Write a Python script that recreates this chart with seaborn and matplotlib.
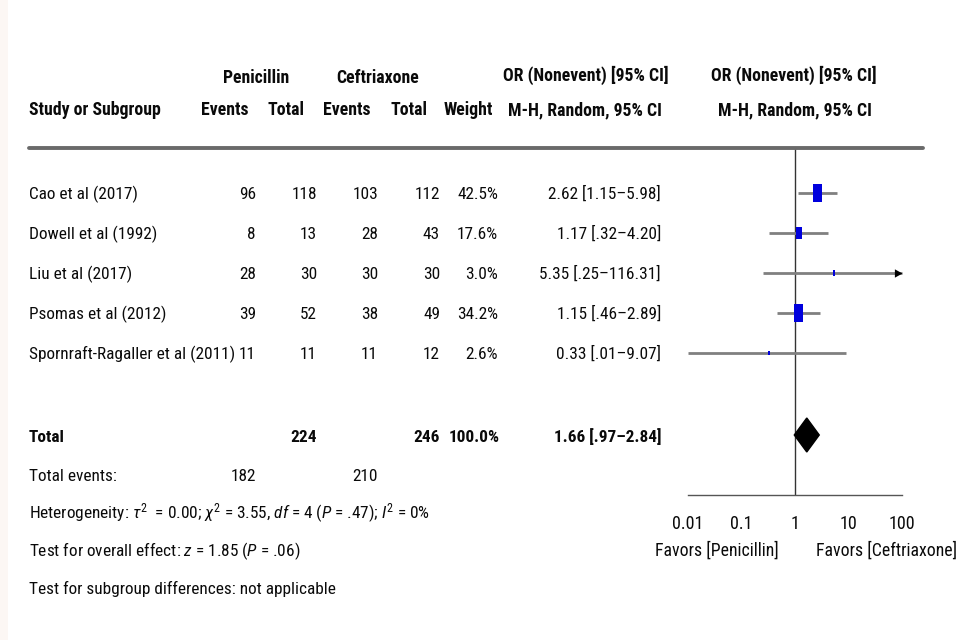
import numpy as np
import pandas as pd
import matplotlib
matplotlib.use("Agg")
import matplotlib.pyplot as plt
from matplotlib.path import Path
from matplotlib.lines import Line2D
from matplotlib.patches import Rectangle
import seaborn as sns

# ---- study data -----------------------------------------------------------
studies = ["Cao et al (2017)", "Dowell et al (1992)", "Liu et al (2017)",
           "Psomas et al (2012)", "Spornraft-Ragaller et al (2011)"]
pen_events = [96, 8, 28, 39, 11]
pen_total = [118, 13, 30, 52, 11]
cef_events = [103, 28, 30, 38, 11]
cef_total = [112, 43, 30, 49, 12]
weights = [42.5, 17.6, 3.0, 34.2, 2.6]
odds = [2.62, 1.17, 5.35, 1.15, 0.33]
ci_low = [1.15, 0.32, 0.25, 0.46, 0.01]
ci_high = [5.98, 4.20, 116.31, 2.89, 9.07]

pooled_or = 1.66
pooled_low = 0.97
pooled_high = 2.84
total_pen = 224
total_cef = 246
total_weight = 100.0
events_pen = 182
events_cef = 210

axis_ticks = [0.01, 0.1, 1, 10, 100]
axis_labels = ["0.01", "0.1", "1", "10", "100"]

# ---- style ----------------------------------------------------------------
sns.set_style("white")
FONT = "Roboto Condensed"
plt.rcParams["font.family"] = [FONT, "Liberation Sans", "DejaVu Sans"]
plt.rcParams["mathtext.fontset"] = "custom"
plt.rcParams["mathtext.rm"] = FONT
plt.rcParams["mathtext.it"] = FONT + ":italic"
plt.rcParams["mathtext.bf"] = FONT + ":bold"

W, H = 961, 640
fig = plt.figure(figsize=(W / 100, H / 100), dpi=100)
fig.patch.set_facecolor("white")
fig.patches.append(Rectangle((0, 0), 8 / W, 1, transform=fig.transFigure,
                             facecolor="#fcf7f4", edgecolor="none", zorder=0))

BODY = 12.4
HEAD = 12.8


def put(x, y, s, ha="left", bold=False, size=BODY):
    fig.text(x / W, 1 - y / H, s, ha=ha, va="baseline", fontsize=size,
             fontweight="bold" if bold else "normal", color="#0a0a0a")


def ci_bound(v):
    s = f"{v:.2f}"
    return s[1:] if s.startswith("0.") else s


# ---- table header ---------------------------------------------------------
put(256, 83, "Penicillin", ha="center", bold=True, size=HEAD)
put(378, 83, "Ceftriaxone", ha="center", bold=True, size=HEAD)
put(586, 81, "OR (Nonevent) [95% CI]", ha="center", bold=True, size=HEAD)
put(794, 81, "OR (Nonevent) [95% CI]", ha="center", bold=True, size=HEAD)
put(29, 115, "Study or Subgroup", bold=True, size=HEAD)
put(225, 115, "Events", ha="center", bold=True, size=HEAD)
put(286, 115, "Total", ha="center", bold=True, size=HEAD)
put(347, 115, "Events", ha="center", bold=True, size=HEAD)
put(409, 115, "Total", ha="center", bold=True, size=HEAD)
put(493, 115, "Weight", ha="right", bold=True, size=HEAD)
put(585, 115, "M-H, Random, 95% CI", ha="center", bold=True, size=HEAD)
put(795, 115, "M-H, Random, 95% CI", ha="center", bold=True, size=HEAD)

fig.lines.append(Line2D([29 / W, 923 / W], [1 - 148 / H, 1 - 148 / H],
                        transform=fig.transFigure, color="#6a6a6a", lw=2.8))

# ---- study rows -----------------------------------------------------------
row_y = [193 + 40 * i for i in range(len(studies))]
for i, name in enumerate(studies):
    yb = row_y[i] + 6
    put(29, yb, name)
    put(256, yb, str(pen_events[i]), ha="right")
    put(317, yb, str(pen_total[i]), ha="right")
    put(378, yb, str(cef_events[i]), ha="right")
    put(440, yb, str(cef_total[i]), ha="right")
    put(498, yb, f"{weights[i]:.1f}%", ha="right")
    put(661, yb, f"{odds[i]:.2f} [{ci_bound(ci_low[i])}\u2013{ci_bound(ci_high[i])}]",
        ha="right")

# ---- totals and footnotes -------------------------------------------------
put(29, 442, "Total", bold=True)
put(317, 442, str(total_pen), ha="right", bold=True)
put(440, 442, str(total_cef), ha="right", bold=True)
put(500, 442, f"{total_weight:.1f}%", ha="right", bold=True)
put(661, 442, f"{pooled_or:.2f} [{ci_bound(pooled_low)}\u2013{ci_bound(pooled_high)}]",
    ha="right", bold=True)
put(29, 481, "Total events:")
put(256, 481, str(events_pen), ha="right")
put(378, 481, str(events_cef), ha="right")
put(29, 519, r"Heterogeneity: $\tau^2$  = 0.00; $\chi^2$ = 3.55, $df$ = 4 ($P$ = .47); $I^2$ = 0%")
put(29, 556, r"Test for overall effect: $z$ = 1.85 ($P$ = .06)")
put(29, 594, "Test for subgroup differences: not applicable")

# ---- forest plot ----------------------------------------------------------
x0, x1, ytop, ybot = 688, 902, 148, 495
ax = fig.add_axes([x0 / W, 1 - ybot / H, (x1 - x0) / W, (ybot - ytop) / H])
ax.set_facecolor("none")
ax.set_xscale("log")
ax.set_xlim(axis_ticks[0], axis_ticks[-1])
ax.set_ylim(ybot, ytop)

df = pd.DataFrame({"study": studies, "or": odds, "lo": ci_low, "hi": ci_high,
                   "weight": weights, "y": row_y})

# confidence interval whiskers, capped at the axis limit
ax.hlines(df["y"], df["lo"], np.minimum(df["hi"], axis_ticks[-1]),
          color="#808080", lw=2.0, zorder=2, clip_on=False)
over = df[df["hi"] > axis_ticks[-1]]
tip = Path([(0, 0), (-1, 0.55), (-1, -0.55), (0, 0)],
           [Path.MOVETO, Path.LINETO, Path.LINETO, Path.CLOSEPOLY])
ax.scatter(np.full(len(over), axis_ticks[-1]), over["y"], marker=tip, s=120,
           color="black", zorder=4, clip_on=False, linewidths=0)

# weight-sized boxes (twice as tall as wide)
box = Path([(-0.5, -1), (0.5, -1), (0.5, 1), (-0.5, 1), (-0.5, -1)],
           [Path.MOVETO, Path.LINETO, Path.LINETO, Path.LINETO, Path.CLOSEPOLY])
k = 4.4
sns.scatterplot(data=df, x="or", y="y", size="weight",
                sizes=(k * min(weights), k * max(weights)),
                marker=box, color="#0000dd", edgecolor="none", linewidth=0,
                legend=False, ax=ax, zorder=3, clip_on=False)

# pooled estimate diamond
yd = 435
ax.fill([pooled_low, pooled_or, pooled_high, pooled_or],
        [yd, yd - 17, yd, yd + 17], color="black", zorder=3, clip_on=False)

ax.axvline(1, color="#333333", lw=1.0, zorder=1)

for side in ["top", "right", "left"]:
    ax.spines[side].set_visible(False)
ax.spines["bottom"].set_color("#555555")
ax.spines["bottom"].set_linewidth(1.0)
ax.set_xticks(axis_ticks)
ax.set_xticklabels(axis_labels)
ax.minorticks_off()
ax.tick_params(axis="x", direction="inout", length=11, width=1.0,
               color="#555555", labelsize=13, pad=9, labelcolor="#0a0a0a")
ax.set_yticks([])
ax.set_xlabel("")
ax.set_ylabel("")

put(717, 556, "Favors [Penicillin]", ha="center", size=12.8)
put(887, 556, "Favors [Ceftriaxone]", ha="center", size=12.8)

fig.savefig("out.png", dpi=100)
